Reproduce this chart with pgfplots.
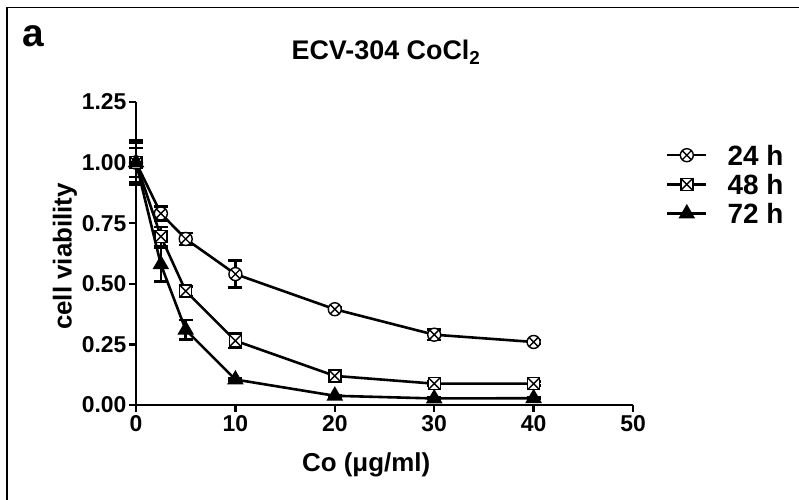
\documentclass[border=0pt]{standalone}
\usepackage{fontspec}
\setmainfont{Liberation Sans}
\usepackage{pgfplots}
\pgfplotsset{compat=1.18}
\pgfdeclareplotmark{boxx}{%
  \pgfpathrectangle{\pgfpoint{-\pgfplotmarksize}{-\pgfplotmarksize}}{\pgfpoint{2\pgfplotmarksize}{2\pgfplotmarksize}}%
  \pgfusepathqfillstroke
  \pgfpathmoveto{\pgfpoint{-\pgfplotmarksize}{-\pgfplotmarksize}}\pgfpathlineto{\pgfpoint{\pgfplotmarksize}{\pgfplotmarksize}}%
  \pgfpathmoveto{\pgfpoint{-\pgfplotmarksize}{\pgfplotmarksize}}\pgfpathlineto{\pgfpoint{\pgfplotmarksize}{-\pgfplotmarksize}}%
  \pgfusepathqstroke}
\begin{document}
\begin{tikzpicture}[x=1bp,y=1bp]
\path[use as bounding box] (0,0) rectangle (799,500);
\draw[line width=1.5bp] (7,-2) -- (7,492.5) -- (801,492.5);
\node[anchor=base west,font=\bfseries\fontsize{39}{39}\selectfont,inner sep=0pt] at (22,453) {a};
\node[font=\bfseries\fontsize{27}{27}\selectfont] at (386,448) {ECV-304 CoCl\textsubscript{2}};
\begin{axis}[
  at={(136bp,95bp)}, anchor=origin,
  scale only axis, width=497bp, height=303bp,
  xmin=0, xmax=50, ymin=0, ymax=1.25,
  axis x line*=bottom, axis y line*=left,
  axis line style={line width=2.6bp, -},
  xtick={0,10,...,50}, ytick={0,0.25,0.5,0.75,1,1.25},
  tick align=outside, major tick length=7bp,
  tick style={line width=2.4bp, black},
  /pgf/number format/assume math mode=true,
  tick label style={font=\bfseries\fontsize{23}{23}\selectfont},
  yticklabel style={/pgf/number format/fixed, /pgf/number format/fixed zerofill, /pgf/number format/precision=2, xshift=1bp},
  xticklabel style={/pgf/number format/fixed},
  xlabel={Co (μg/ml)}, ylabel={cell viability},
  label style={font=\bfseries\fontsize{26}{26}\selectfont},
  xlabel style={at={(axis description cs:0.463,-0.198)}, anchor=center},
  ylabel style={at={(axis description cs:-0.143,0.49)}, anchor=center},
  clip=false,
  legend style={draw=none, fill=none, at={(1.066,0.865)}, anchor=north west,
    font=\bfseries\fontsize{28}{28}\selectfont, row sep=5bp,
    legend cell align=left, inner sep=0pt,
    nodes={inner xsep=0pt, text depth=0pt}},
  legend image code/.code={\draw[line width=2.4bp, dash pattern=on 3bp off 1.5bp] (0bp,0bp) -- (39bp,0bp); \draw[mark repeat=2,mark phase=2,solid] plot coordinates {(0bp,0bp) (19.5bp,0bp) (39bp,0bp)}; \path (59bp,0bp);},
  error bars/error bar style={line width=2.6bp},
  error bars/error mark options={rotate=90, mark size=7bp, line width=2.6bp},
]
\addplot[black, line width=2.6bp, mark=otimes*, mark size=6.5bp, mark options={fill=white, line width=1.4bp, solid},
  error bars/.cd, y dir=both, y explicit] coordinates {
  (0,1.00) +- (0,0.08)
  (2.5,0.79) +- (0,0.03)
  (5,0.685) +- (0,0.025)
  (10,0.54) +- (0,0.055)
  (20,0.395) +- (0,0.008)
  (30,0.29) +- (0,0.022)
  (40,0.26) +- (0,0.008)
};
\addlegendentry{24 h}
\addplot[black, line width=2.6bp, mark=boxx, mark size=6bp, mark options={fill=white, line width=1.4bp, solid},
  error bars/.cd, y dir=both, y explicit] coordinates {
  (0,1.00) +- (0,0.06)
  (2.5,0.695) +- (0,0.04)
  (5,0.47) +- (0,0.02)
  (10,0.265) +- (0,0.03)
  (20,0.12) +- (0,0.008)
  (30,0.088) +- (0,0.008)
  (40,0.088) +- (0,0.008)
};
\addlegendentry{48 h}
\addplot[black, line width=2.6bp, mark=triangle*, mark size=7bp, mark options={fill=black, solid},
  error bars/.cd, y dir=both, y explicit] coordinates {
  (0,1.00) +- (0,0.09)
  (2.5,0.58) +- (0,0.07)
  (5,0.31) +- (0,0.04)
  (10,0.105) +- (0,0.005)
  (20,0.038) +- (0,0.004)
  (30,0.027) +- (0,0.003)
  (40,0.028) +- (0,0.003)
};
\addlegendentry{72 h}
\end{axis}
\end{tikzpicture}
\end{document}
